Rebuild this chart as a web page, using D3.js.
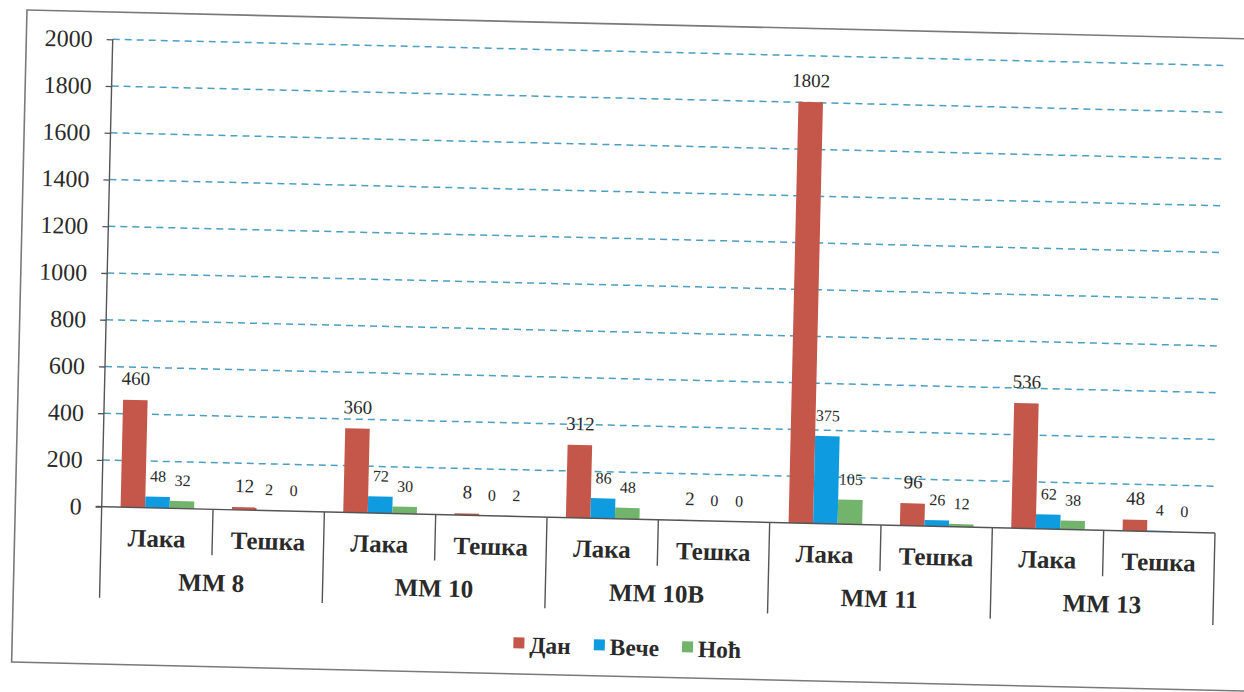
<!DOCTYPE html>
<html><head><meta charset="utf-8">
<script src="https://cdn.jsdelivr.net/npm/d3@7"></script>
<style>body{margin:0;background:#fff}svg{display:block}text{font-family:"Liberation Serif","Times New Roman",serif}</style>
</head><body><svg id="c" width="1244" height="692"></svg>
<script>
const groups = ["ММ 8","ММ 10","ММ 10В","ММ 11","ММ 13"];
const subs = ["Лака","Тешка"];
const seriesNames = ["Дан","Вече","Ноћ"];
const dan  = [460,12,360,8,312,2,1802,96,536,48];
const vece = [48,2,72,0,86,0,375,26,62,4];
const noc  = [32,0,30,2,48,0,105,12,38,0];
const yTicks = [0,200,400,600,800,1000,1200,1400,1600,1800,2000];
const colors = ["#c4574a","#0f9be0","#72b46c"];

const seriesVals = [dan, vece, noc];
const X0 = 101.7, Y0 = 506.7, W = 1113.6, YTOP = 39.2;
const FONT = "Liberation Serif, Times New Roman, serif";
const svg = d3.select("#c");
const g = svg.append("g").attr("transform", `rotate(1.35,${X0},${Y0})`);

// frame
g.append("rect").attr("x",15.3).attr("y",11.9).attr("width",1400).attr("height",652.2)
  .attr("fill","none").attr("stroke","#7a7a7a").attr("stroke-width",1.6);

const y = d3.scaleLinear().domain([0,2000]).range([Y0, YTOP]);
const xg = d3.scaleBand().domain(groups).range([X0, X0+W]).padding(0);
const xs = d3.scaleBand().domain(subs).range([0, xg.bandwidth()]).padding(0);
const xb = d3.scaleBand().domain(seriesNames).range([0, xs.bandwidth()]).paddingInner(0).paddingOuter(0.77);

// gridlines
g.append("g").selectAll("line").data(yTicks.filter(d=>d>0)).join("line")
  .attr("x1",X0).attr("x2",X0+W+1).attr("y1",d=>y(d)).attr("y2",d=>y(d))
  .attr("stroke","#4a9fc2").attr("stroke-width",1.5).attr("stroke-dasharray","7,5");

// y axis
const yAxis = d3.axisLeft(y).tickValues(yTicks).tickSize(6).tickPadding(14).tickFormat(d3.format("d"));
const ya = g.append("g").attr("transform",`translate(${X0},0)`).call(yAxis);
ya.attr("font-family", FONT);
ya.select(".domain").remove();
ya.selectAll(".tick line").attr("stroke","#555").attr("stroke-width",1.3);
ya.selectAll(".tick text").style("font-family",FONT).attr("font-size",24).attr("fill","#2a2a2a");

// bars
const rows = [];
groups.forEach((gr,gi)=>subs.forEach((s,si)=>seriesNames.forEach((sn,k)=>{
  rows.push({gr, s, sn, k, v: seriesVals[k][gi*2+si]});
})));
const bx = d => xg(d.gr) + xs(d.s) + xb(d.sn);
g.append("g").selectAll("rect").data(rows).join("rect")
  .attr("x", bx).attr("width", xb.bandwidth())
  .attr("y", d=>y(d.v)).attr("height", d=>Y0 - y(d.v))
  .attr("fill", d=>colors[d.k]);

// value labels
g.append("g").selectAll("text").data(rows).join("text")
  .attr("x", d=>bx(d)+xb.bandwidth()/2).attr("y", d=>y(d.v)-15)
  .attr("text-anchor","middle").style("font-family",FONT)
  .attr("font-size", d=>d.k===0?19:16).attr("fill","#2a2a2a")
  .text(d=>d.v);

// axis lines
const ax = g.append("g").attr("stroke","#555").attr("stroke-width",1.4);
ax.append("line").attr("x1",X0).attr("x2",X0).attr("y1",YTOP).attr("y2",Y0+91);
ax.append("line").attr("x1",X0-6).attr("x2",X0+W).attr("y1",Y0).attr("y2",Y0);
groups.forEach((gr,gi)=>{
  const gx = xg(gr);
  if (gi>0) ax.append("line").attr("x1",gx).attr("x2",gx).attr("y1",Y0).attr("y2",Y0+91);
  ax.append("line").attr("x1",gx+xs("Тешка")).attr("x2",gx+xs("Тешка")).attr("y1",Y0).attr("y2",Y0+46);
});
ax.append("line").attr("x1",X0+W).attr("x2",X0+W).attr("y1",Y0).attr("y2",Y0+92);

// category labels
const cat = g.append("g").attr("font-weight","bold").attr("fill","#2a2a2a").attr("text-anchor","middle");
groups.forEach(gr=>{
  subs.forEach(s=>{
    cat.append("text").attr("x", xg(gr)+xs(s)+xs.bandwidth()/2).attr("y", Y0+39).style("font-family",FONT).attr("font-size",25).text(s);
  });
  cat.append("text").attr("x", xg(gr)+xg.bandwidth()/2).attr("y", Y0+82).style("font-family",FONT).attr("font-size",25).text(gr);
});

// legend
const leg = g.append("g").attr("font-weight","bold").attr("font-size",23.5).attr("fill","#2a2a2a");
let lx = 516.5;
seriesNames.forEach((sn,k)=>{
  leg.append("rect").attr("x",lx).attr("y",627.5).attr("width",11).attr("height",11).attr("fill",colors[k]);
  const t = leg.append("text").attr("x",lx+16).attr("y",643).style("font-family",FONT).text(sn);
  lx += 16 + t.node().getComputedTextLength() + 23;
});
</script></body></html>
